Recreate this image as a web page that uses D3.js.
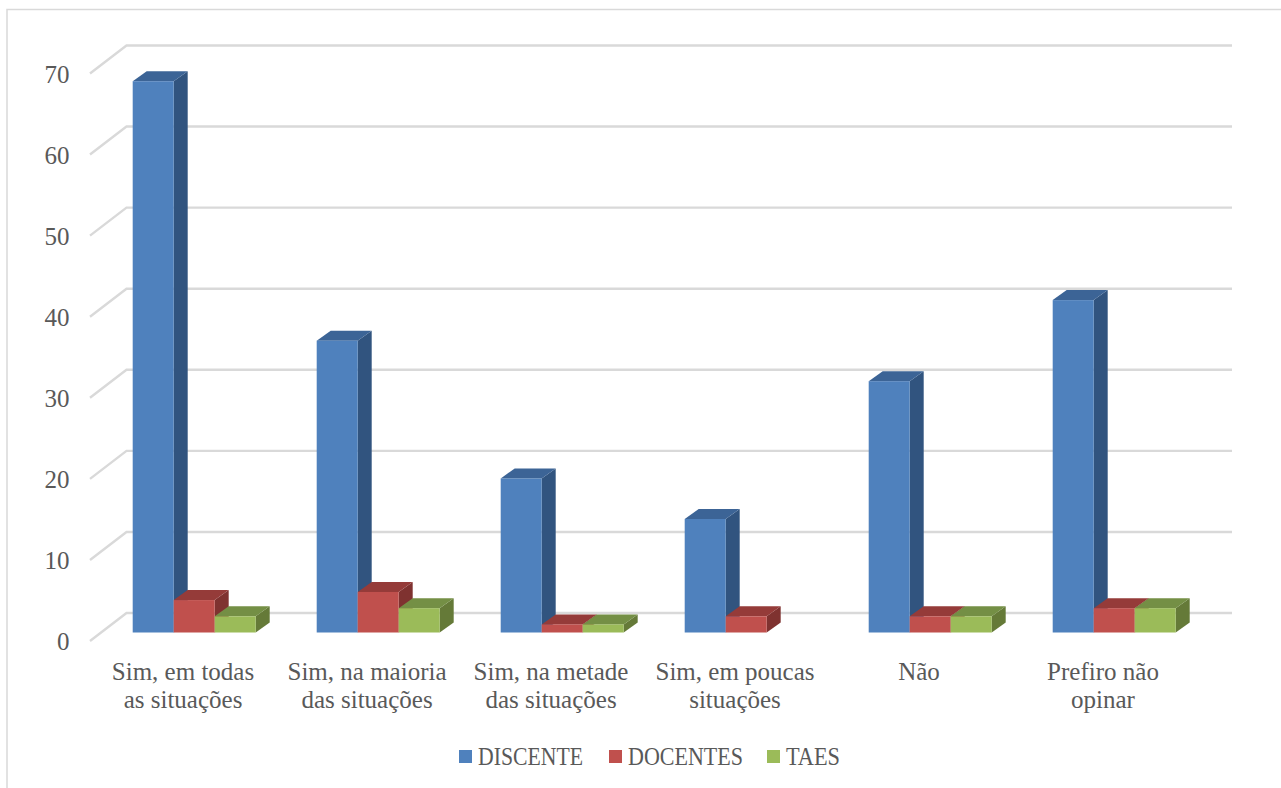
<!DOCTYPE html>
<html><head><meta charset="utf-8">
<style>html,body{margin:0;padding:0;background:#fff;overflow:hidden}svg{display:block}</style>
<script src="https://cdn.jsdelivr.net/npm/d3@7"></script></head><body>
<script>
const categories = [["Sim, em todas","as situações"],["Sim, na maioria","das situações"],["Sim, na metade","das situações"],["Sim, em poucas","situações"],["Não"],["Prefiro não","opinar"]];
const seriesNames = ["DISCENTE","DOCENTES","TAES"];
const discente = [68,36,19,14,31,41];
const docentes = [4,5,1,2,2,3];
const taes = [2,3,1,0,2,3];
const yTicks = [0,10,20,30,40,50,60,70];
const seriesValues = [discente,docentes,taes];
const front = ["#4F81BD","#C0504D","#9BBB59"];
const top_ = ["#3C6496","#953B39","#748F45"];
const side = ["#31547F","#7F3230","#657A38"];
const font = "'Liberation Serif', serif";
const textCol = "#595959";

const W=1281,H=788;
const svg=d3.select("body").append("svg").attr("width",W).attr("height",H);
svg.append("path").attr("d",`M7,${H} V9.5 H${W}`).attr("fill","none").attr("stroke","#D9D9D9").attr("stroke-width",1.5);

const y=d3.scaleLinear().domain([0,70]).range([632.5,65]);
const x=d3.scaleBand().domain(d3.range(categories.length)).range([90,1194]);
const barW=41, wallDx=36.5, wallDy=-28, barDx=14, barDy=-10, floorDy=8.5;
const g=svg.append("g");
yTicks.forEach(t=>{
  const yy=y(t)+floorDy;
  g.append("path").attr("d",`M90,${yy} L${90+wallDx},${yy+wallDy} H1232`).attr("fill","none").attr("stroke","#D9D9D9").attr("stroke-width",2.4);
  g.append("text").attr("x",69.5).attr("y",yy+0.5).attr("text-anchor","end").attr("dominant-baseline","central")
   .attr("font-family",font).attr("font-size",25).attr("fill",textCol).text(t);
});
categories.forEach((c,i)=>{
  const x0=x(i)+x.bandwidth()/2+12.2-barW*1.5;
  for(let s=0;s<3;s++){
    const v=seriesValues[s][i]; if(!v) continue;
    const l=x0+s*barW, r=l+barW, t=y(v), b=y(0);
    g.append("path").attr("d",`M${r},${t} l${barDx},${barDy} V${b+barDy} L${r},${b} Z`).attr("fill",side[s]);
    g.append("path").attr("d",`M${l},${t} l${barDx},${barDy} H${r+barDx} L${r},${t} Z`).attr("fill",top_[s]);
    g.append("rect").attr("x",l).attr("y",t).attr("width",barW).attr("height",b-t).attr("fill",front[s]);
  }
  const cx=x(i)+x.bandwidth()/2+1;
  c.forEach((ln,j)=>g.append("text").attr("x",cx).attr("y",680+j*27.5).attr("text-anchor","middle")
    .attr("font-family",font).attr("font-size",25).attr("fill",textCol).text(ln));
});
const legX=[459,609,767], legT=[478,628,786], legW=[105,115,54];
seriesNames.forEach((n,i)=>{
  svg.append("rect").attr("x",legX[i]).attr("y",750).attr("width",13).attr("height",13).attr("fill",front[i]);
  svg.append("text").attr("x",legT[i]).attr("y",765).attr("font-family",font).attr("font-size",25)
    .attr("textLength",legW[i]).attr("lengthAdjust","spacingAndGlyphs").attr("fill",textCol).text(n);
});
</script></body></html>
